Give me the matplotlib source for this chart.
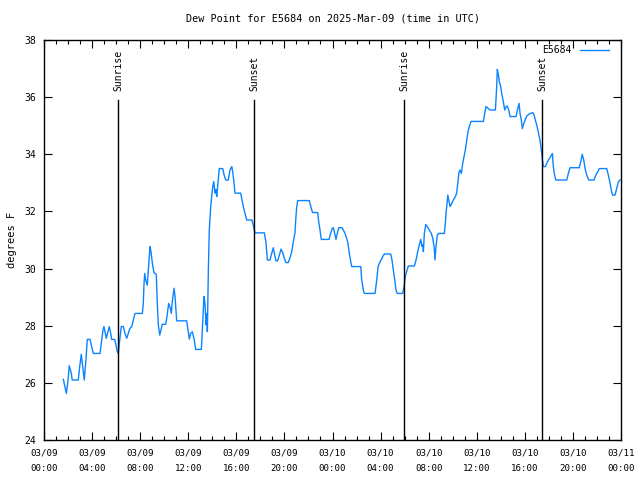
import matplotlib
matplotlib.use('Agg')
import matplotlib.pyplot as plt
from matplotlib.ticker import MultipleLocator

# Hours since 03/09 00:00 UTC and dew point (F)
hours = [
    1.61, 1.86, 2.00, 2.10, 2.27, 2.35, 2.85, 2.97, 3.10, 3.22, 3.35, 3.49, 3.60, 3.83, 3.97,
    4.10, 4.66, 4.80, 4.91, 4.99, 5.07, 5.18, 5.32, 5.43, 5.55, 5.63, 5.88, 5.99, 6.10, 6.18,
    6.30, 6.43, 6.60, 6.74, 6.88, 7.01, 7.15, 7.30, 7.43, 7.57, 8.18, 8.26, 8.32, 8.38, 8.46,
    8.59, 8.71, 8.82, 8.90, 9.01, 9.15, 9.34, 9.43, 9.51, 9.63, 9.76, 9.84, 10.12, 10.23, 10.37,
    10.51, 10.59, 10.67, 10.82, 10.90, 11.04, 11.87, 12.00, 12.09, 12.20, 12.34, 12.50, 12.62,
    13.09, 13.20, 13.31, 13.39, 13.48, 13.54, 13.59, 13.67, 13.75, 13.87, 13.95, 14.04, 14.12,
    14.23, 14.31, 14.37, 14.48, 14.58, 14.87, 14.98, 15.12, 15.33, 15.47, 15.62, 15.70, 15.78,
    15.89, 16.36, 16.47, 16.58, 16.72, 16.86, 17.30, 17.41, 17.55, 18.33, 18.47, 18.58, 18.80,
    18.94, 19.08, 19.16, 19.30, 19.44, 19.58, 19.72, 19.86, 19.99, 20.13, 20.32, 20.47, 20.61,
    20.74, 20.88, 20.94, 21.02, 21.11, 22.07, 22.19, 22.27, 22.35, 22.77, 22.85, 22.96, 23.07,
    23.71, 23.85, 23.98, 24.07, 24.21, 24.29, 24.40, 24.52, 24.79, 24.90, 25.04, 25.18, 25.29,
    25.40, 25.52, 25.60, 26.35, 26.43, 26.56, 26.65, 27.54, 27.68, 27.79, 27.90, 28.04, 28.18,
    28.31, 28.84, 28.95, 29.06, 29.18, 29.28, 29.39, 29.84, 29.95, 30.06, 30.17, 30.31, 30.81,
    30.95, 31.09, 31.22, 31.34, 31.45, 31.53, 31.56, 31.64, 31.76, 31.89, 32.06, 32.22, 32.34,
    32.45, 32.53, 32.61, 32.72, 32.84, 33.30, 33.39, 33.44, 33.53, 33.59, 33.67, 33.78, 33.92,
    34.05, 34.22, 34.33, 34.42, 34.53, 34.61, 34.72, 34.83, 34.94, 35.05, 35.17, 35.27, 35.38,
    35.52, 36.55, 36.66, 36.77, 36.94, 37.10, 37.55, 37.60, 37.66, 37.71, 37.80, 37.88, 37.99,
    38.08, 38.21, 38.33, 38.44, 38.54, 38.66, 38.77, 39.27, 39.38, 39.52, 39.60, 39.71, 39.79,
    39.88, 40.02, 40.16, 40.37, 40.66, 40.77, 40.87, 40.99, 41.12, 41.26, 41.35, 41.41, 41.46,
    41.54, 41.71, 41.82, 41.96, 42.15, 42.29, 42.37, 42.45, 42.57, 43.49, 43.62, 43.76, 44.53,
    44.65, 44.78, 44.90, 45.01, 45.15, 45.32, 45.76, 45.90, 46.07, 46.20, 46.81, 46.95, 47.09,
    47.19, 47.30, 47.50, 47.64, 47.78, 47.92,
]
dewpoint = [
    26.12, 25.63, 26.10, 26.60, 26.33, 26.10, 26.10, 26.57, 27.00, 26.57, 26.10, 26.80, 27.52, 27.52, 27.27,
    27.03, 27.03, 27.50, 27.85, 27.97, 27.80, 27.56, 27.79, 27.97, 27.73, 27.52, 27.52, 27.32, 27.09, 27.03,
    27.50, 27.97, 27.97, 27.73, 27.56, 27.73, 27.91, 27.97, 28.20, 28.43, 28.43, 28.78, 29.48, 29.83, 29.60,
    29.42, 30.13, 30.77, 30.59, 30.20, 29.85, 29.80, 28.72, 28.03, 27.67, 27.90, 28.05, 28.05, 28.32, 28.78,
    28.61, 28.43, 28.84, 29.31, 29.02, 28.17, 28.17, 27.79, 27.53, 27.73, 27.79, 27.50, 27.17,
    27.17, 28.08, 29.02, 28.78, 28.03, 28.43, 27.79, 29.90, 31.35, 32.17, 32.52, 32.87, 33.05,
    32.64, 32.76, 32.52, 33.05, 33.50, 33.50, 33.28, 33.10, 33.10, 33.45, 33.57, 33.39, 33.10,
    32.64, 32.64, 32.40, 32.17, 31.93, 31.70, 31.70, 31.52, 31.25, 31.25, 30.90, 30.30, 30.30,
    30.53, 30.73, 30.53, 30.27, 30.27, 30.48, 30.68, 30.56, 30.36, 30.21, 30.21, 30.39, 30.59,
    30.94, 31.26, 31.70, 32.14, 32.38, 32.38, 32.19, 32.05, 31.96, 31.96, 31.64, 31.35, 31.02,
    31.02, 31.23, 31.41, 31.43, 31.18, 31.02, 31.23, 31.43, 31.43, 31.35, 31.23, 31.06, 30.88,
    30.53, 30.24, 30.07, 30.07, 29.60, 29.25, 29.13, 29.13, 29.60, 30.07, 30.18, 30.30, 30.42,
    30.51, 30.51, 30.30, 29.95, 29.60, 29.25, 29.13, 29.13, 29.37, 29.72, 29.90, 30.09, 30.09,
    30.30, 30.59, 30.83, 31.02, 30.77, 30.83, 30.59, 31.23, 31.54, 31.47, 31.35, 31.23, 31.06,
    30.77, 30.30, 30.77, 31.18, 31.23, 31.23, 31.58, 31.93, 32.28, 32.57, 32.40, 32.17, 32.28,
    32.40, 32.52, 32.64, 32.99, 33.39, 33.45, 33.33, 33.68, 33.92, 34.15, 34.50, 34.79, 34.97,
    35.15, 35.15, 35.43, 35.67, 35.61, 35.55, 35.55, 35.90, 36.37, 36.97, 36.78, 36.54, 36.37,
    36.13, 35.84, 35.55, 35.67, 35.69, 35.55, 35.32, 35.32, 35.55, 35.78, 35.43, 35.20, 34.90,
    35.03, 35.20, 35.34, 35.41, 35.46, 35.38, 35.20, 35.03, 34.78, 34.50, 34.20, 34.03, 33.80,
    33.57, 33.57, 33.68, 33.80, 33.92, 34.03, 33.57, 33.33, 33.10, 33.10, 33.33, 33.53, 33.53,
    33.74, 34.00, 33.80, 33.50, 33.27, 33.10, 33.10, 33.27, 33.39, 33.50, 33.50, 33.27, 32.99,
    32.75, 32.57, 32.57, 32.80, 33.03, 33.10,
]

# Sun events (hours since start)
sun_hours = [6.16, 17.47, 29.95, 41.43]
sun_labels = ['Sunrise', 'Sunset', 'Sunrise', 'Sunset']

tick_hours = list(range(0, 49, 4))
tick_labels = ['03/09\n00:00', '03/09\n04:00', '03/09\n08:00', '03/09\n12:00', '03/09\n16:00',
               '03/09\n20:00', '03/10\n00:00', '03/10\n04:00', '03/10\n08:00', '03/10\n12:00',
               '03/10\n16:00', '03/10\n20:00', '03/11\n00:00']

plt.rcParams['font.family'] = 'DejaVu Sans Mono'

fig = plt.figure(figsize=(6.4, 4.8), dpi=100)
ax = fig.add_axes([44 / 640, 40 / 480, 577 / 640, 400 / 480])

ax.plot(hours, dewpoint, color='#0a84ff', linewidth=1.0, label='E5684')

for h, lab in zip(sun_hours, sun_labels):
    ax.plot([h, h], [24, 35.9], color='black', linewidth=1.0)
    ax.text(h, 36.2, lab, rotation=90, ha='center', va='bottom', fontsize=7)

ax.set_xlim(0, 48)
ax.set_ylim(24, 38)
ax.set_xticks(tick_hours)
ax.set_xticklabels(tick_labels, fontsize=6.6, linespacing=1.9)
ax.xaxis.set_minor_locator(MultipleLocator(1))
ax.set_yticks(range(24, 39, 2))
ax.tick_params(axis='y', labelsize=7, pad=6)
ax.tick_params(axis='x', pad=6)
ax.tick_params(which='both', direction='in', top=True, right=True, width=0.8)
ax.tick_params(which='major', length=6)
ax.tick_params(which='minor', length=3)
for s in ax.spines.values():
    s.set_linewidth(1.0)

ax.set_ylabel('degrees F', fontsize=7.5, labelpad=5)
ax.set_title('Dew Point for E5684 on 2025-Mar-09 (time in UTC)', fontsize=7.3, pad=13)

leg = ax.legend(loc='upper right', bbox_to_anchor=(0.984, 0.995), frameon=False,
                fontsize=7, handlelength=3.0, handletextpad=0.8, markerfirst=False,
                borderaxespad=0, borderpad=0.3)

fig.savefig('out.png', dpi=100)
